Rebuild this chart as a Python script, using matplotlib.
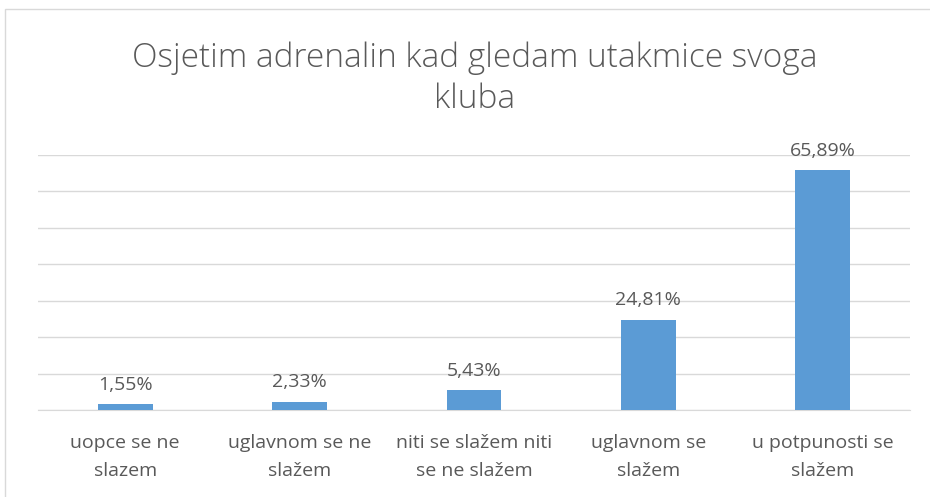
import matplotlib
matplotlib.use("Agg")
import matplotlib.pyplot as plt
from matplotlib.patches import Rectangle

categories = ["uopce se ne\nslazem", "uglavnom se ne\nslažem", "niti se slažem niti\nse ne slažem",
              "uglavnom se\nslažem", "u potpunosti se\nslažem"]
values = [1.55, 2.33, 5.43, 24.81, 65.89]
labels = ["1,55%", "2,33%", "5,43%", "24,81%", "65,89%"]

BAR = "#5B9BD5"
TXT = "#595959"
GRID = "#D9D9D9"
FONT = ["Open Sans", "DejaVu Sans"]

fig = plt.figure(figsize=(9.3, 4.97), dpi=100)
fig.patches.append(Rectangle((5 / 930, -0.01), 1.0, 1 - 9 / 497 + 0.01, transform=fig.transFigure,
                             fill=False, ec=GRID, lw=1.0))
ax = fig.add_axes([38 / 930, 1 - 410 / 497, 872 / 930, 255 / 497])

x = range(len(values))
ax.bar(x, values, width=0.315, color=BAR, zorder=3)
for i, (v, t) in enumerate(zip(values, labels)):
    ax.annotate(t, (i, v), xytext=(0, 7.5), textcoords="offset points", ha="center", va="bottom",
                fontsize=14, color=TXT, family=FONT)

ax.set_xlim(-0.5, len(values) - 0.5)
ax.set_ylim(0, 70)
ax.set_yticks(range(0, 71, 10))
ax.yaxis.grid(True, color=GRID, lw=1.0, zorder=0)
ax.tick_params(axis="y", left=False, labelleft=False)
ax.tick_params(axis="x", length=0, pad=17)
ax.set_xticks(list(x))
ax.set_xticklabels(categories, fontsize=14, color=TXT, family=FONT, linespacing=1.75)
for s in ("top", "right", "left"):
    ax.spines[s].set_visible(False)
ax.spines["bottom"].set_color(GRID)

fig.text(475 / 930, 1 - 79 / 497, "Osjetim adrenalin kad gledam utakmice svoga\nkluba", ha="center",
         va="center", fontsize=24, color=TXT, family=FONT, fontweight="light", linespacing=1.3)

fig.savefig("out.png", dpi=100)
